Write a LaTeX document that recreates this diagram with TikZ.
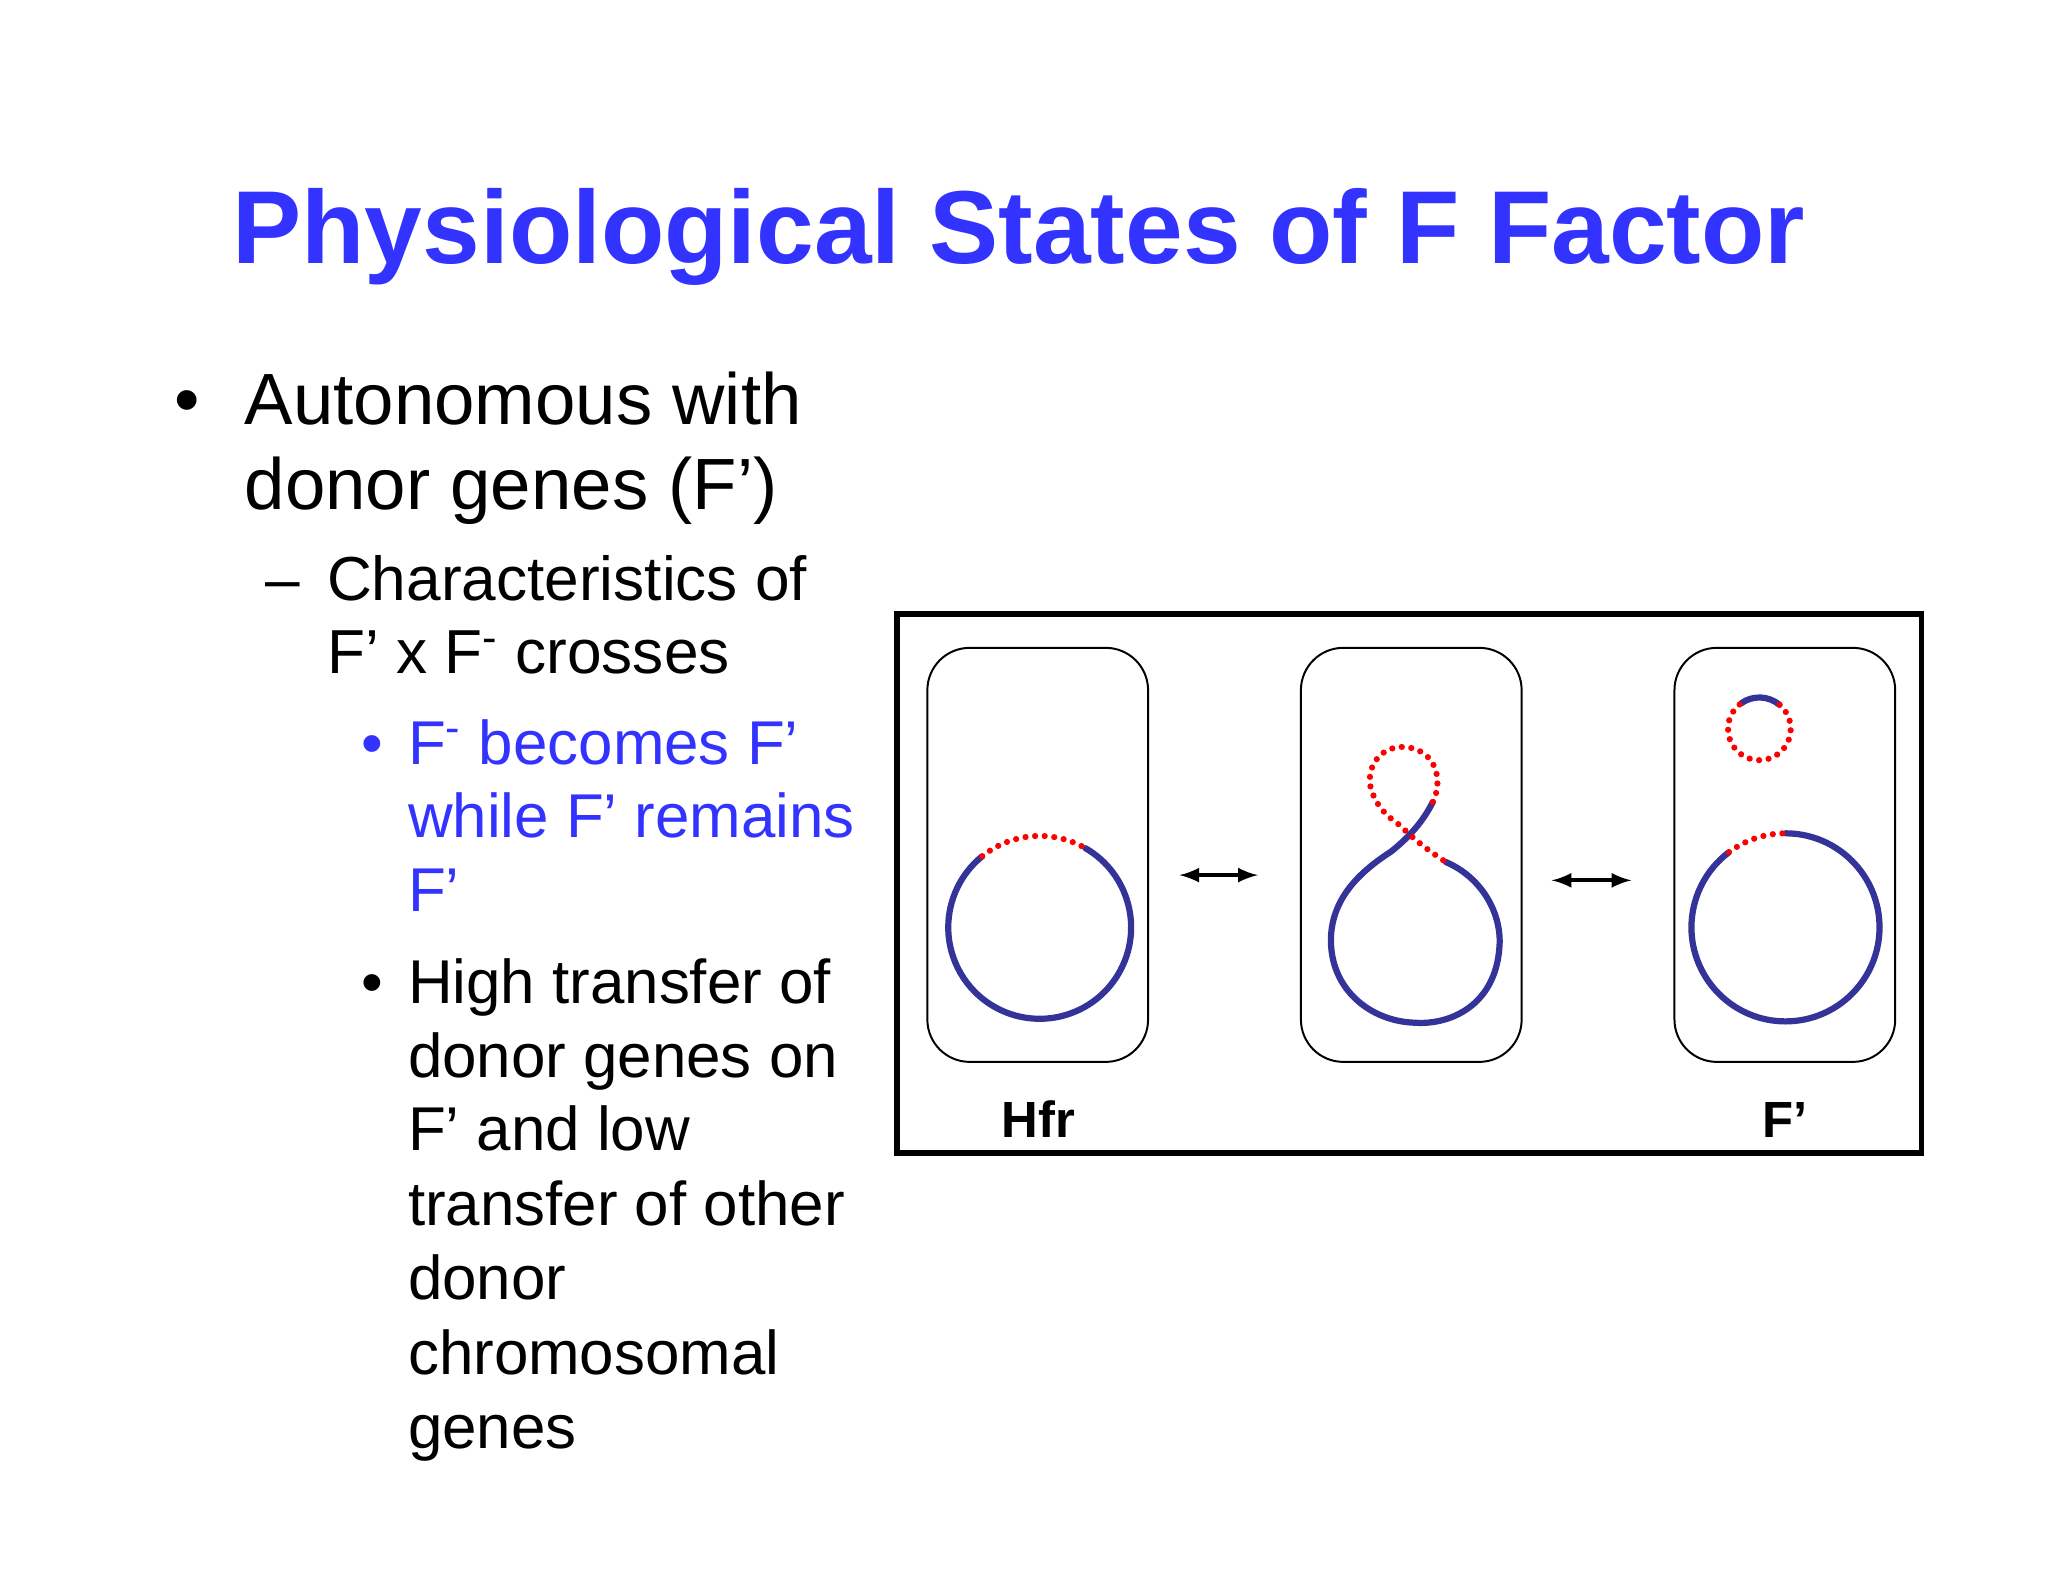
\documentclass[tikz,border=0pt]{standalone}
\usepackage{fontspec}
\setmainfont{Liberation Sans}
\definecolor{ttl}{RGB}{51,51,255}
\definecolor{dna}{RGB}{51,51,153}
\begin{document}
\begin{tikzpicture}[x=0.01625cm,y=0.01625cm,
  txt/.style={anchor=base west,inner sep=0pt},
  la/.style={txt,font=\fontsize{25.7}{31}\selectfont},
  lb/.style={txt,font=\fontsize{22}{27}\selectfont},
  lc/.style={txt,font=\fontsize{21.9}{27}\selectfont},
  bl/.style={line width=2.2pt,draw=dna,line cap=round},
  rd/.style={line width=2.2pt,draw=red,line cap=round,dash pattern=on 0pt off 3.4pt},
  cell/.style={draw,rounded corners=15pt,line width=0.7pt},
  arr/.style={<->,>=latex,line width=1.4pt}]
\useasboundingbox[fill=white] (0,0) rectangle (1568,-1211);
\node[anchor=base,inner sep=0pt,font=\fontsize{36.7}{44}\selectfont\bfseries,text=ttl] (title) at (780,-202) {Physiological States of F Factor};
\node[la] (b1) at (133,-325) {•};
\node[la] (t1) at (187,-325) {Autonomous with};
\node[la] (t2) at (187,-390) {donor genes (F’)};
\node[lb] (d1) at (203,-460) {–};
\node[lb] (t3) at (250,-460) {Characteristics of};
\node[lb] (t4) at (250,-516) {F’ x F\textsuperscript{-} crosses};
\node[lc,text=ttl] (b2) at (276,-585) {•};
\node[lc,text=ttl] (t5) at (312,-585) {F\textsuperscript{-} becomes F’};
\node[lc,text=ttl] (t6) at (312,-641) {while F’ remains};
\node[lc,text=ttl] (t7) at (312,-698) {F’};
\node[lc] (b3) at (276,-768) {•};
\node[lc] (t8) at (312,-768) {High transfer of};
\node[lc] (t9) at (312,-825) {donor genes on};
\node[lc] (t10) at (312,-881) {F’ and low};
\node[lc] (t11) at (312,-938) {transfer of other};
\node[lc] (t12) at (312,-995) {donor};
\node[lc] (t13) at (312,-1052) {chromosomal};
\node[lc] (t14) at (312,-1109) {genes};
% frame
\draw[line width=2pt] (687,-470) rectangle (1471,-883);
\draw[cell] (710,-496) rectangle (879,-813);
\draw[cell] (996,-496) rectangle (1165,-813);
\draw[cell] (1282,-496) rectangle (1451,-813);
% cell 1
\draw[bl] (796,-710) ++(60:70) arc[start angle=60,end angle=-231,radius=70];
\draw[rd] (796,-710) ++(129:70) arc[start angle=129,end angle=60,radius=70];
% cell 3
\draw[bl] (1367,-710) ++(90:72) arc[start angle=90,end angle=-233,radius=72];
\draw[rd] (1367,-710) ++(127:72) arc[start angle=127,end angle=90,radius=72];
\draw[bl] (1347,-558) ++(125:24) arc[start angle=125,end angle=50,radius=24];
\draw[rd] (1347,-558) ++(50:24) arc[start angle=50,end angle=-235,radius=24];
% cell 2
\draw[bl] (1107,-660) .. controls (1135,-672) and (1150,-700) .. (1148,-725)
  .. controls (1145,-770) and (1110,-785) .. (1083,-783)
  .. controls (1050,-782) and (1018,-758) .. (1019,-718)
  .. controls (1020,-685) and (1045,-665) .. (1065,-652)
  .. controls (1080,-640) and (1090,-628) .. (1097,-614);
\draw[rd] (1097,-614) .. controls (1105,-598) and (1100,-575) .. (1077,-572)
  .. controls (1055,-570) and (1045,-590) .. (1050,-605)
  .. controls (1055,-620) and (1065,-627) .. (1072,-632)
  .. controls (1085,-645) and (1095,-652) .. (1107,-660);
% arrows
\coordinate (a1) at (903,-670); \coordinate (a2) at (963,-670);
\coordinate (a3) at (1188,-674); \coordinate (a4) at (1249,-674);
\draw[arr] (a1) -- (a2);
\draw[arr] (a3) -- (a4);
\node[anchor=base,font=\fontsize{18}{21}\selectfont\bfseries] (hfr) at (795,-871) {Hfr};
\node[anchor=base,font=\fontsize{18}{21}\selectfont\bfseries] (fp) at (1367,-871) {F’};
\end{tikzpicture}
\end{document}
